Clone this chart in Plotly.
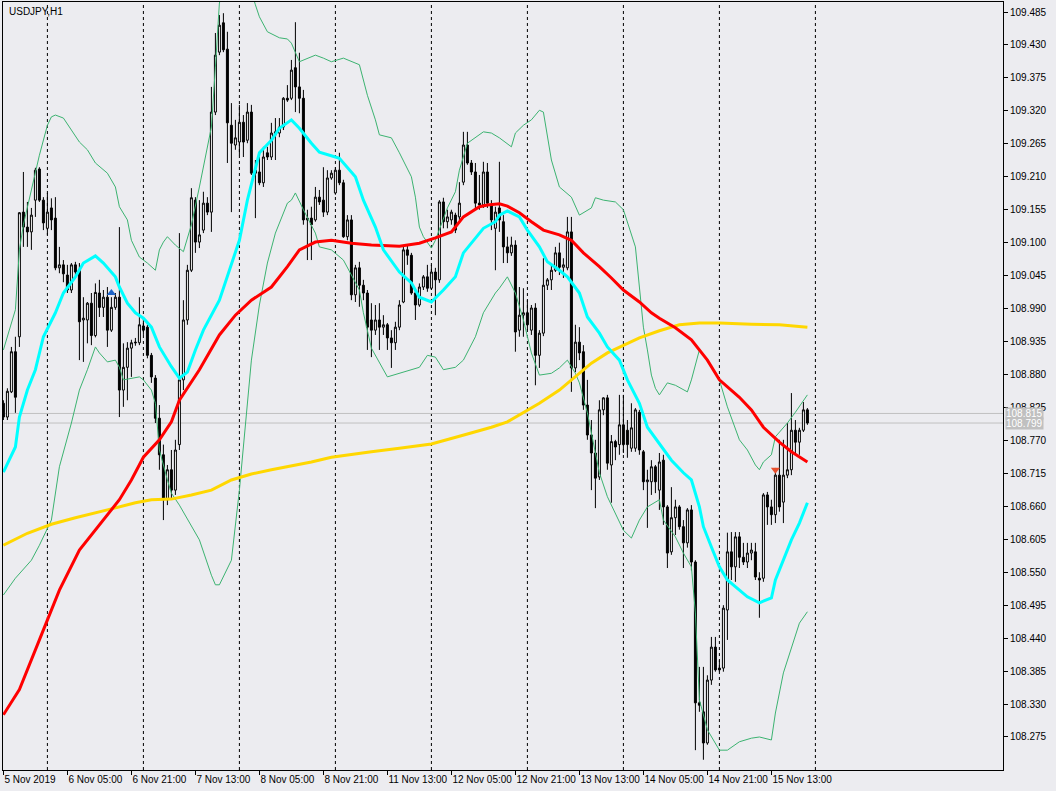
import plotly.graph_objects as go

# ---------------- data (USDJPY H1, bar index 0 = 5 Nov 2019 13:00) ----------------
opens = [
108.832, 108.809, 108.851, 108.918, 108.943, 109.151, 109.126, 109.118, 109.171, 109.223,
109.171, 109.124, 109.158, 109.141, 109.058, 109.063, 109.046, 109.021, 109.063, 109.054,
108.971, 108.971, 108.999, 108.945, 109.016, 108.992, 109.009, 108.954, 108.992, 109.009,
108.854, 108.892, 108.924, 108.934, 108.933, 108.961, 108.959, 108.912, 108.874, 108.807,
108.746, 108.671, 108.721, 108.687, 108.763, 108.871, 108.971, 109.054, 109.171, 109.101,
109.121, 109.166, 109.151, 109.318, 109.418, 109.467, 109.423, 109.296, 109.263, 109.268,
109.301, 109.271, 109.318, 109.221, 109.218, 109.200, 109.250, 109.243, 109.285, 109.283,
109.293, 109.341, 109.341, 109.392, 109.360, 109.341, 109.138, 109.141, 109.138, 109.176,
109.171, 109.151, 109.208, 109.183, 109.221, 109.200, 109.110, 109.138, 109.013, 109.058,
109.029, 109.016, 108.971, 108.954, 108.971, 108.959, 108.963, 108.941, 108.933, 108.959,
109.001, 109.088, 109.079, 109.016, 108.996, 109.026, 109.043, 109.024, 109.051, 109.038,
109.168, 109.135, 109.138, 109.146, 109.143, 109.201, 109.263, 109.233, 109.218, 109.166,
109.163, 109.218, 109.163, 109.124, 109.158, 109.135, 109.093, 109.083, 109.096, 108.954,
108.979, 108.983, 108.954, 108.991, 108.912, 108.949, 109.029, 109.038, 109.054, 109.083,
109.059, 109.058, 109.118, 108.891, 108.934, 108.918, 108.829, 108.779, 108.749, 108.709,
108.821, 108.841, 108.729, 108.768, 108.763, 108.796, 108.787, 108.757, 108.757, 108.817,
108.751, 108.701, 108.701, 108.726, 108.687, 108.737, 108.659, 108.584, 108.641, 108.659,
108.626, 108.599, 108.654, 108.567, 108.332, 108.317, 108.265, 108.370, 108.425, 108.390,
108.390, 108.487, 108.584, 108.559, 108.609, 108.575, 108.567, 108.582, 108.584, 108.540,
108.540, 108.679, 108.659, 108.646, 108.712, 108.667, 108.712, 108.721, 108.787, 108.767,
108.787, 108.821]

highs = [
108.837, 108.857, 108.926, 108.943, 109.151, 109.218, 109.168, 109.158, 109.225, 109.226,
109.176, 109.183, 109.174, 109.176, 109.093, 109.071, 109.063, 109.066, 109.068, 109.066,
109.009, 109.001, 109.016, 109.032, 109.038, 109.021, 109.026, 109.009, 109.016, 109.126,
108.932, 108.934, 108.938, 108.941, 109.009, 108.974, 108.963, 108.916, 108.879, 108.829,
108.763, 108.729, 108.754, 108.771, 109.116, 109.004, 109.063, 109.191, 109.176, 109.171,
109.185, 109.176, 109.360, 109.450, 109.480, 109.483, 109.452, 109.333, 109.305, 109.330,
109.313, 109.333, 109.330, 109.238, 109.243, 109.260, 109.260, 109.300, 109.308, 109.308,
109.343, 109.363, 109.405, 109.468, 109.417, 109.355, 109.155, 109.160, 109.193, 109.188,
109.226, 109.221, 109.221, 109.226, 109.250, 109.205, 109.146, 109.146, 109.063, 109.068,
109.038, 109.021, 108.999, 108.996, 108.999, 108.979, 108.966, 108.954, 108.968, 109.004,
109.093, 109.096, 109.083, 109.021, 109.032, 109.046, 109.063, 109.063, 109.058, 109.171,
109.175, 109.155, 109.155, 109.150, 109.201, 109.285, 109.285, 109.238, 109.233, 109.213,
109.235, 109.233, 109.171, 109.160, 109.235, 109.146, 109.110, 109.110, 109.104, 109.026,
109.024, 109.004, 108.996, 108.999, 108.954, 109.074, 109.041, 109.063, 109.093, 109.100,
109.074, 109.143, 109.143, 108.963, 108.959, 108.929, 108.871, 108.804, 108.771, 108.837,
108.842, 108.846, 108.779, 108.771, 108.846, 108.846, 108.804, 108.832, 108.824, 108.821,
108.754, 108.721, 108.737, 108.729, 108.749, 108.746, 108.662, 108.692, 108.671, 108.662,
108.637, 108.657, 108.662, 108.570, 108.392, 108.392, 108.378, 108.442, 108.442, 108.403,
108.495, 108.616, 108.617, 108.617, 108.617, 108.599, 108.599, 108.599, 108.599, 108.550,
108.682, 108.684, 108.671, 108.724, 108.771, 108.771, 108.799, 108.849, 108.804, 108.791,
108.834, 108.824]

lows = [
108.804, 108.804, 108.849, 108.816, 108.926, 109.093, 109.093, 109.088, 109.143, 109.168,
109.121, 109.113, 109.121, 109.054, 109.049, 109.034, 109.016, 109.016, 109.046, 108.904,
108.901, 108.932, 108.929, 108.942, 108.976, 108.976, 108.926, 108.951, 108.988, 108.809,
108.826, 108.837, 108.876, 108.928, 108.929, 108.946, 108.907, 108.866, 108.799, 108.721,
108.637, 108.662, 108.671, 108.679, 108.754, 108.854, 108.963, 109.051, 109.083, 109.091,
109.116, 109.146, 109.118, 109.313, 109.413, 109.418, 109.233, 109.151, 109.255, 109.246,
109.243, 109.266, 109.213, 109.141, 109.196, 109.193, 109.238, 109.238, 109.238, 109.276,
109.288, 109.335, 109.338, 109.318, 109.316, 109.130, 109.071, 109.071, 109.135, 109.163,
109.143, 109.146, 109.205, 109.180, 109.196, 109.108, 109.104, 109.004, 109.001, 108.993,
109.004, 108.921, 108.909, 108.946, 108.921, 108.946, 108.921, 108.891, 108.921, 108.954,
108.999, 109.063, 109.013, 108.971, 108.993, 109.021, 109.018, 109.021, 108.979, 109.033,
109.124, 109.124, 109.130, 109.116, 109.138, 109.196, 109.230, 109.213, 109.155, 109.155,
109.158, 109.158, 109.121, 109.054, 109.118, 109.066, 109.066, 109.078, 108.918, 108.943,
108.943, 108.954, 108.946, 108.862, 108.891, 108.944, 109.021, 109.021, 109.051, 109.046,
109.041, 109.054, 108.851, 108.884, 108.904, 108.821, 108.771, 108.687, 108.657, 108.704,
108.812, 108.721, 108.666, 108.737, 108.746, 108.749, 108.741, 108.751, 108.751, 108.746,
108.687, 108.624, 108.679, 108.682, 108.654, 108.629, 108.557, 108.579, 108.612, 108.621,
108.557, 108.591, 108.553, 108.253, 108.317, 108.237, 108.262, 108.362, 108.384, 108.384,
108.384, 108.437, 108.537, 108.534, 108.557, 108.562, 108.557, 108.570, 108.537, 108.474,
108.534, 108.629, 108.629, 108.632, 108.651, 108.632, 108.707, 108.712, 108.746, 108.746,
108.784, 108.796]

closes = [
108.809, 108.852, 108.918, 108.842, 109.150, 109.126, 109.118, 109.146, 109.221, 109.171,
109.133, 109.151, 109.138, 109.058, 109.063, 109.048, 109.021, 109.063, 109.051, 108.968,
108.974, 108.999, 108.945, 109.017, 108.992, 109.009, 108.954, 108.992, 109.009, 108.854,
108.892, 108.924, 108.933, 108.933, 108.963, 108.954, 108.912, 108.876, 108.807, 108.746,
108.671, 108.721, 108.687, 108.754, 108.871, 108.971, 109.054, 109.175, 109.101, 109.113,
109.166, 109.151, 109.318, 109.413, 109.463, 109.422, 109.300, 109.266, 109.275, 109.301,
109.268, 109.318, 109.216, 109.216, 109.200, 109.243, 109.243, 109.283, 109.280, 109.293,
109.341, 109.338, 109.388, 109.360, 109.341, 109.138, 109.141, 109.130, 109.176, 109.168,
109.151, 109.208, 109.216, 109.221, 109.200, 109.110, 109.138, 109.013, 109.058, 109.029,
109.016, 108.959, 108.954, 108.971, 108.959, 108.963, 108.941, 108.933, 108.959, 108.996,
109.088, 109.079, 109.016, 108.996, 109.026, 109.043, 109.024, 109.051, 109.038, 109.168,
109.135, 109.143, 109.151, 109.121, 109.166, 109.263, 109.233, 109.218, 109.166, 109.163,
109.218, 109.166, 109.138, 109.151, 109.138, 109.093, 109.083, 109.096, 108.951, 108.979,
108.983, 108.963, 108.991, 108.912, 108.949, 109.029, 109.038, 109.054, 109.083, 109.059,
109.063, 109.118, 108.891, 108.934, 108.916, 108.829, 108.779, 108.749, 108.707, 108.821,
108.841, 108.732, 108.768, 108.759, 108.796, 108.763, 108.763, 108.791, 108.821, 108.754,
108.701, 108.704, 108.726, 108.701, 108.734, 108.659, 108.582, 108.641, 108.659, 108.626,
108.599, 108.654, 108.567, 108.332, 108.328, 108.265, 108.370, 108.425, 108.387, 108.387,
108.490, 108.584, 108.559, 108.609, 108.575, 108.567, 108.582, 108.587, 108.542, 108.537,
108.679, 108.659, 108.646, 108.712, 108.659, 108.712, 108.721, 108.787, 108.767, 108.787,
108.821, 108.799]

# Moving average 20 / Bollinger middle (cyan)
ma20_idx = [0,3,4,6,8,10,13,15,18,20,23,25,28,29,31,33,35,37,39,42,44,46,48,50,54,59,61,63,64,67,
            69,72,74,77,79,83,84,88,90,93,95,99,102,104,107,110,113,115,118,120,123,124,126,129,131,
            134,136,139,141,144,146,149,151,154,156,159,161,165,167,170,172,174,175,177,179,181,184,
            186,189,192,193,195,197,199,201]
ma20_val = [108.717,108.759,108.809,108.854,108.888,108.943,108.983,109.016,109.043,109.066,
            109.078,109.066,109.043,109.026,108.999,108.983,108.974,108.959,108.926,108.893,
            108.874,108.884,108.921,108.954,109.004,109.104,109.171,109.221,109.250,109.271,
            109.291,109.305,109.291,109.266,109.251,109.243,109.241,109.210,109.171,109.126,
            109.088,109.051,109.033,109.009,109.001,109.021,109.043,109.083,109.108,109.124,
            109.135,109.146,109.153,109.143,109.121,109.093,109.068,109.054,109.043,109.016,
            108.976,108.949,108.926,108.904,108.871,108.832,108.792,108.754,108.737,108.716,
            108.704,108.659,108.626,108.592,108.559,108.537,108.520,108.509,108.499,108.507,
            108.537,108.570,108.604,108.632,108.666]

# Moving average (red)
ma50_idx = [0,4,9,14,19,25,29,32,35,39,42,44,49,54,58,62,67,71,74,78,82,87,92,99,104,108,112,115,
            119,121,124,126,129,132,135,139,142,145,149,152,155,159,162,164,168,172,176,179,184,
            187,190,194,197,201]
ma50_val = [108.312,108.354,108.437,108.520,108.587,108.637,108.671,108.704,108.742,108.771,
            108.801,108.837,108.888,108.946,108.979,109.004,109.026,109.060,109.088,109.101,
            109.104,109.099,109.096,109.094,109.099,109.108,109.118,109.143,109.160,109.163,
            109.165,109.161,109.150,109.135,109.121,109.113,109.104,109.083,109.060,109.041,
            109.021,109.001,108.983,108.974,108.958,108.938,108.904,108.871,108.842,108.821,
            108.792,108.767,108.751,108.734]

# Moving average (gold)
ma200_idx = [0,6,12,18,26,33,37,42,47,52,57,62,67,72,77,82,87,92,99,107,114,122,126,130,134,139,
             143,147,151,155,159,164,169,174,179,187,194,201]
ma200_val = [108.595,108.615,108.630,108.641,108.654,108.666,108.671,108.672,108.679,108.687,
             108.704,108.714,108.721,108.727,108.734,108.742,108.747,108.751,108.757,108.764,
             108.777,108.792,108.801,108.816,108.832,108.854,108.876,108.899,108.916,108.929,
             108.941,108.953,108.963,108.966,108.966,108.964,108.963,108.959]

# Bollinger upper band (green)
bb_up_idx = [0,3,4,5,7,9,11,12,13,15,17,19,21,23,26,28,29,31,32,34,36,38,39,40,41,43,45,47,49,50,
             52,53,54,56,60,63,64,66,69,71,72,74,76,78,80,82,85,89,91,93,94,97,99,102,103,104,105,
             107,108,111,113,114,116,118,120,122,124,127,128,130,132,134,135,137,139,142,144,147,
             148,150,153,155,158,159,160,161,162,163,164,166,168,171,172,174,176,179,181,184,186,
             188,189,190,192,193,196,198,201]
bb_up_val = [108.921,108.988,109.088,109.130,109.188,109.246,109.296,109.310,109.313,109.308,
             109.288,109.268,109.255,109.233,109.216,109.193,109.160,109.138,109.104,109.076,
             109.066,109.054,109.088,109.101,109.110,109.096,109.085,109.130,109.193,109.226,
             109.293,109.393,109.500,109.547,109.563,109.497,109.477,109.452,109.442,109.440,
             109.433,109.402,109.408,109.413,109.408,109.402,109.408,109.397,109.346,109.305,
             109.280,109.275,109.250,109.210,109.176,109.126,109.110,109.091,109.104,109.158,
             109.185,109.221,109.266,109.275,109.285,109.283,109.275,109.260,109.283,109.296,
             109.305,109.321,109.318,109.238,109.193,109.176,109.146,109.158,109.175,109.171,
             109.168,109.155,109.093,109.026,108.959,108.921,108.879,108.857,108.846,108.866,
             108.862,108.851,108.871,108.921,108.904,108.871,108.826,108.771,108.754,108.729,
             108.721,108.734,108.746,108.776,108.799,108.817,108.846]

# Bollinger lower band (green)
bb_lo_idx = [0,3,7,9,12,14,17,19,21,23,24,26,28,29,30,32,34,35,37,38,39,41,42,44,49,52,53,54,57,59,
             61,62,64,66,68,71,72,73,75,78,79,82,85,89,90,92,96,104,106,108,110,113,115,118,120,123,
             124,126,128,130,132,134,137,139,141,143,144,146,148,149,151,153,155,157,159,161,164,
             165,168,170,172,173,174,176,179,181,184,187,189,192,193,195,197,199,201]
bb_lo_val = [108.512,108.540,108.570,108.595,108.637,108.726,108.799,108.854,108.888,108.926,
             108.916,108.901,108.904,108.892,108.871,108.874,108.876,108.871,108.854,108.832,
             108.754,108.704,108.682,108.662,108.604,108.545,108.529,108.529,108.570,108.687,
             108.837,108.904,108.996,109.066,109.116,109.166,109.171,109.183,109.155,109.116,
             109.093,109.088,109.071,109.021,108.983,108.924,108.876,108.892,108.912,108.909,
             108.888,108.892,108.904,108.943,108.983,109.016,109.024,109.043,109.016,108.971,
             108.916,108.879,108.882,108.891,108.904,108.882,108.866,108.816,108.749,108.716,
             108.676,108.649,108.620,108.607,108.637,108.659,108.671,108.637,108.609,108.582,
             108.559,108.482,108.337,108.287,108.253,108.253,108.267,108.273,108.275,108.270,
             108.315,108.382,108.425,108.465,108.484]

# trade arrows
buy_idx, buy_price = [27], [109.016]
sell_idx, sell_price = [193], [108.721]

# axes
day_sep_idx = [11, 35, 59, 83, 107, 131, 155, 179, 203]
x_tick_idx = [0, 16, 32, 48, 64, 80, 96, 112, 128, 144, 160, 176, 192]
x_tick_txt = ["5 Nov 2019", "6 Nov 05:00", "6 Nov 21:00", "7 Nov 13:00", "8 Nov 05:00",
              "8 Nov 21:00", "11 Nov 13:00", "12 Nov 05:00", "12 Nov 21:00", "13 Nov 13:00",
              "14 Nov 05:00", "14 Nov 21:00", "15 Nov 13:00"]
y_tick_vals = [109.485, 109.430, 109.375, 109.320, 109.265, 109.210, 109.155, 109.100, 109.045,
               108.990, 108.935, 108.880, 108.825, 108.770, 108.715, 108.660, 108.605, 108.550,
               108.495, 108.440, 108.385, 108.330, 108.275]
ask_price, bid_price = 108.815, 108.799

# ---------------- figure ----------------
n = min(len(opens), len(highs), len(lows), len(closes))
xs = list(range(n))
FONT = "Liberation Sans, Arial, sans-serif"

fig = go.Figure()

for d in day_sep_idx:
    fig.add_shape(type="line", x0=d, x1=d, xref="x", y0=0, y1=1, yref="paper",
                  line=dict(color="black", width=1, dash="3px,3px"), layer="below")
for p in (ask_price, bid_price):
    fig.add_shape(type="line", x0=0, x1=1, xref="paper", y0=p, y1=p, yref="y",
                  line=dict(color="#C0C0C0", width=1), layer="below")

fig.add_trace(go.Scatter(x=bb_up_idx, y=bb_up_val, mode="lines",
                         line=dict(color="#3CB371", width=1), hoverinfo="skip"))
fig.add_trace(go.Scatter(x=bb_lo_idx, y=bb_lo_val, mode="lines",
                         line=dict(color="#3CB371", width=1), hoverinfo="skip"))

fig.add_trace(go.Candlestick(
    x=xs, open=opens[:n], high=highs[:n], low=lows[:n], close=closes[:n],
    increasing=dict(line=dict(color="black", width=1), fillcolor="white"),
    decreasing=dict(line=dict(color="black", width=1), fillcolor="black"),
    whiskerwidth=0, hoverinfo="skip"))

fig.add_trace(go.Scatter(x=ma200_idx, y=ma200_val, mode="lines",
                         line=dict(color="#FFD700", width=3), hoverinfo="skip"))
fig.add_trace(go.Scatter(x=ma50_idx, y=ma50_val, mode="lines",
                         line=dict(color="#FF0000", width=3), hoverinfo="skip"))
fig.add_trace(go.Scatter(x=ma20_idx, y=ma20_val, mode="lines",
                         line=dict(color="#00FFFF", width=3), hoverinfo="skip"))

fig.add_trace(go.Scatter(x=buy_idx, y=buy_price, mode="markers",
                         marker=dict(symbol="triangle-up", size=8, color="#1E64C8"), hoverinfo="skip"))
fig.add_trace(go.Scatter(x=sell_idx, y=sell_price, mode="markers",
                         marker=dict(symbol="triangle-down", size=8, color="#E8502D"), hoverinfo="skip"))

fig.add_annotation(text="USDJPY,H1", xref="paper", yref="paper", x=0, y=1,
                   xanchor="left", yanchor="top", xshift=4, yshift=-2, showarrow=False,
                   font=dict(family=FONT, size=10, color="black"))
for p in (ask_price, bid_price):
    fig.add_annotation(text=f"{p:.3f}", xref="paper", yref="y", x=1, y=p,
                       xanchor="left", yanchor="middle", xshift=2, showarrow=False,
                       bgcolor="#C0C0C0", borderpad=0,
                       font=dict(family=FONT, size=10, color="white"))

fig.update_layout(
    width=1056, height=791,
    margin=dict(l=3, r=53, t=2, b=21, autoexpand=False),
    paper_bgcolor="#ECECF0", plot_bgcolor="#ECECF0",
    showlegend=False,
    font=dict(family=FONT, size=10, color="black"),
    xaxis=dict(range=[-0.1, 249.9], rangeslider=dict(visible=False),
               tickmode="array", tickvals=x_tick_idx, ticktext=x_tick_txt,
               ticks="outside", ticklen=4, tickcolor="black", tickangle=0,
               ticklabelposition="outside right", automargin=False,
               showgrid=False, zeroline=False, showline=True, linecolor="black",
               linewidth=1, mirror=True, tickfont=dict(family=FONT, size=10)),
    yaxis=dict(range=[108.2199, 109.5017], side="right", automargin=False,
               tickmode="array", tickvals=y_tick_vals,
               ticktext=[f"{v:.3f}" for v in y_tick_vals],
               ticks="outside", ticklen=4, tickcolor="black",
               showgrid=False, zeroline=False, showline=True, linecolor="black",
               linewidth=1, mirror=True, tickfont=dict(family=FONT, size=10)),
)

fig.write_html("out.html", config={"displayModeBar": False},
               post_script="document.body.style.margin='0px';document.body.style.overflow='hidden';")
